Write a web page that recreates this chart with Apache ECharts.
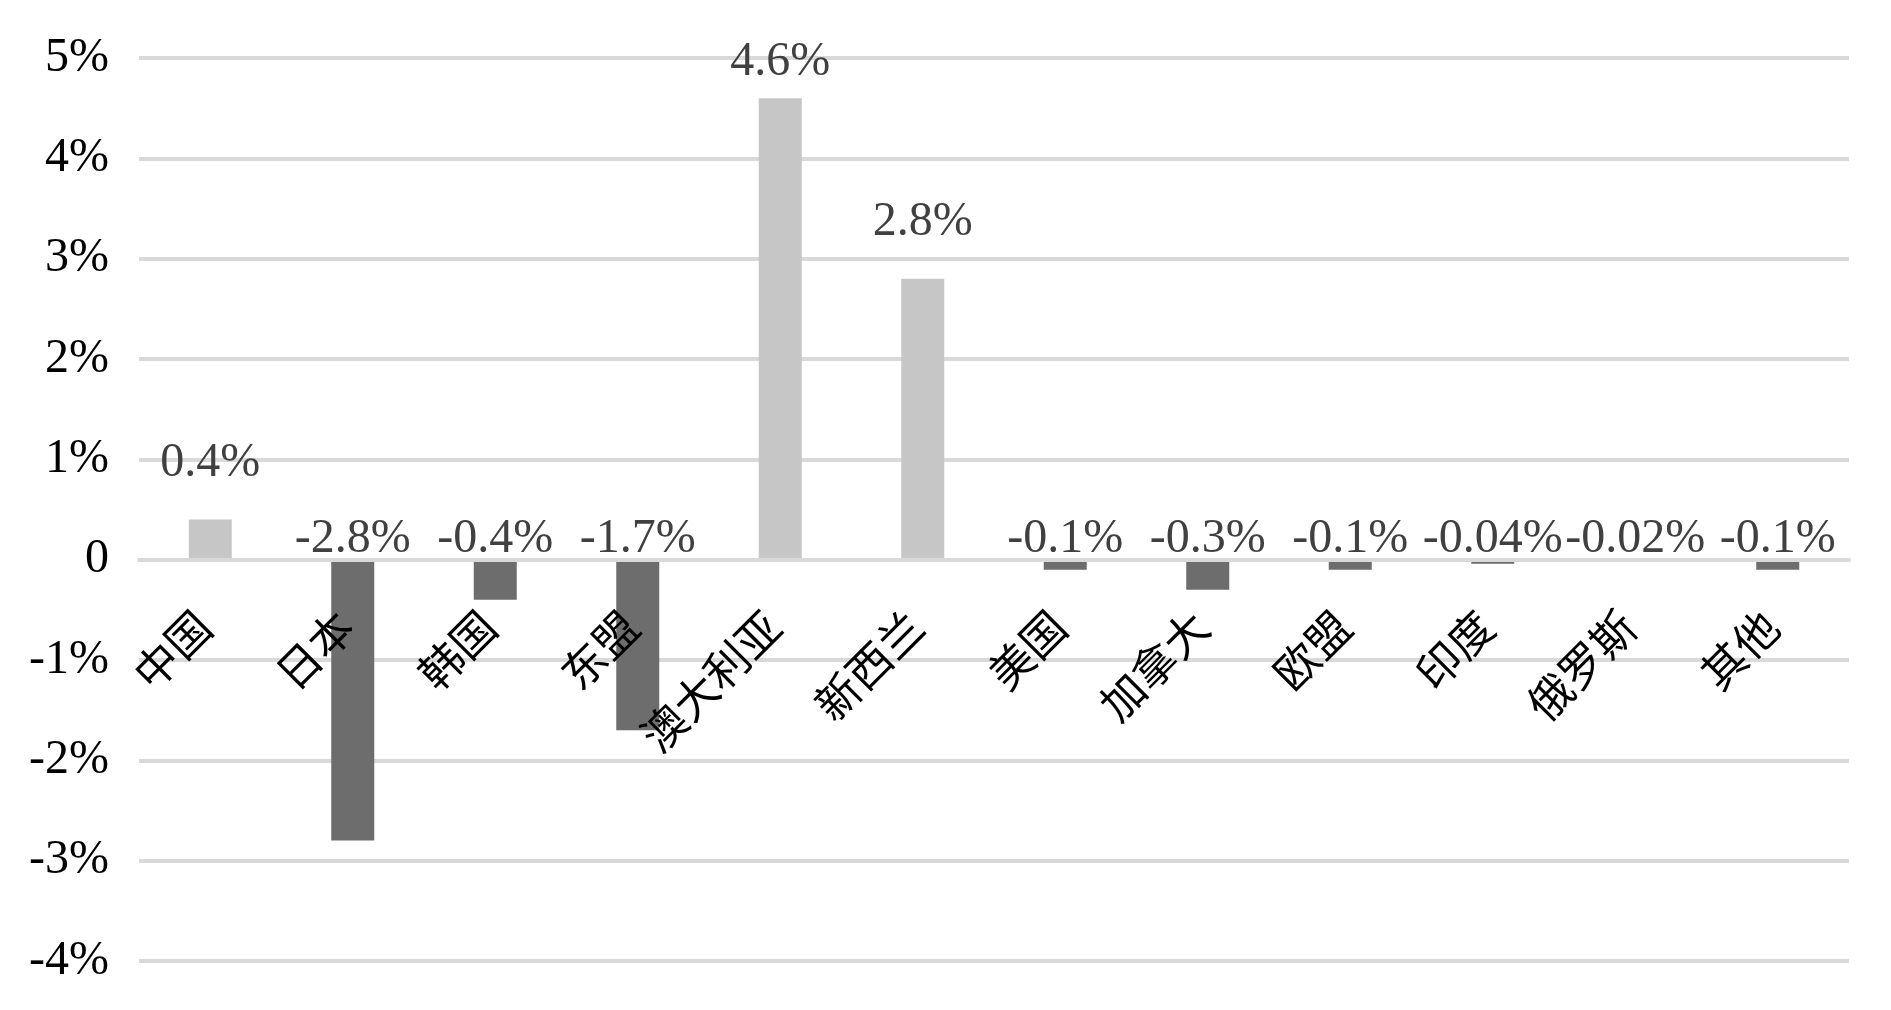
<!DOCTYPE html>
<html><head><meta charset="utf-8">
<script src="https://cdn.jsdelivr.net/npm/echarts@6/dist/echarts.min.js"></script>
<style>html,body{margin:0;padding:0;background:#fff}#c{width:1891px;height:1010px}</style>
</head><body><div id="c"></div>
<script>
const categories = ['中国','日本','韩国','东盟','澳大利亚','新西兰','美国','加拿大','欧盟','印度','俄罗斯','其他'];
const values = [0.4, -2.8, -0.4, -1.7, 4.6, 2.8, -0.1, -0.3, -0.1, -0.04, -0.02, -0.1];
const yMin = -4, yMax = 5, yStep = 1;

const POS = '#c6c6c6', NEG = '#6d6d6d';
const data = values.map(v => ({
  value: v,
  itemStyle: { color: v >= 0 ? POS : NEG },
  label: { distance: v >= 0 ? (v > 4.5 ? 12 : 32) : -4 }
}));

const GRID_TOP = 58, GRID_BOTTOM = 49, H = 1010;
const plotH = H - GRID_TOP - GRID_BOTTOM;
const zeroOffset = -plotH * (0 - yMin) / (yMax - yMin);

const chart = echarts.init(document.getElementById('c'), null, {renderer: 'canvas'});
chart.setOption({
  backgroundColor: '#ffffff',
  animation: false,
  grid: { left: 139, right: 42, top: GRID_TOP, bottom: GRID_BOTTOM, containLabel: false, outerBoundsMode: 'none' },
  xAxis: {
    type: 'category',
    data: categories,
    z: 5,
    position: 'bottom',
    offset: zeroOffset,
    axisLine: { show: true, onZero: false, lineStyle: { color: '#d9d9d9', width: 4 } },
    axisTick: { show: false },
    axisLabel: {
      rotate: 45,
      margin: 52,
      padding: [0, 10, 0, 0],
      interval: 0,
      color: '#000',
      fontSize: 44,
      fontFamily: '"Noto Sans CJK SC", sans-serif'
    },
    splitLine: { show: false }
  },
  yAxis: {
    type: 'value',
    min: yMin, max: yMax, interval: yStep,
    axisLine: { show: false },
    axisTick: { show: false },
    splitLine: { show: true, lineStyle: { color: '#d9d9d9', width: 4 } },
    axisLabel: {
      margin: 30,
      color: '#000',
      fontSize: 48,
      fontFamily: '"Liberation Serif", serif',
      formatter: v => v === 0 ? '0' : v + '%'
    }
  },
  series: [{
    type: 'bar',
    data: data,
    barWidth: 43,
    label: {
      show: true,
      position: 'top',
      color: '#404040',
      fontSize: 48,
      fontFamily: '"Liberation Serif", serif',
      formatter: p => p.value + '%'
    }
  }]
});
</script></body></html>
